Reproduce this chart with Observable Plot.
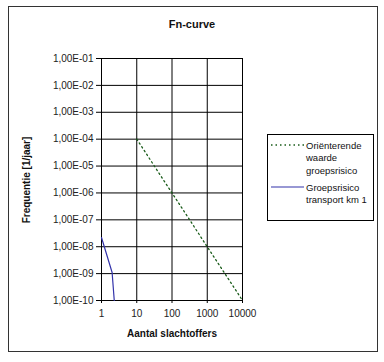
<!DOCTYPE html>
<html><head><meta charset="utf-8">
<script src="https://cdn.jsdelivr.net/npm/d3@7"></script>
<script src="https://cdn.jsdelivr.net/npm/@observablehq/plot@0.6"></script>
<style>body{margin:0;background:#fff;font-family:"Liberation Sans",Arial,sans-serif}</style>
</head><body><div id="chart"></div>
<script>
const title = "Fn-curve";
const xLabel = "Aantal slachtoffers";
const yLabel = "Frequentie [1/jaar]";
const xTicks = [1, 10, 100, 1000, 10000];
const yTicks = [1e-1, 1e-2, 1e-3, 1e-4, 1e-5, 1e-6, 1e-7, 1e-8, 1e-9, 1e-10];
const seriesNames = ["Oriënterende waarde groepsrisico", "Groepsrisico transport km 1"];
const orientN = [10, 10000];
const orientF = [1e-4, 1e-10];
const groepN = [1, 2, 2.3];
const groepF = [2.2e-8, 1.1e-9, 1e-10];

const orient = orientN.map((n, i) => ({n, f: orientF[i]}));
const groep = groepN.map((n, i) => ({n, f: groepF[i]}));
const fmtY = d => "1,00E-" + String(Math.round(-Math.log10(d))).padStart(2, "0");

const W = 384, H = 362;
const chart = Plot.plot({
  width: W, height: H,
  marginLeft: 101, marginRight: 142, marginTop: 58, marginBottom: 62,
  style: {fontFamily: '"Liberation Sans", Arial, sans-serif', fontSize: "10px", color: "#222", background: "#fff"},
  x: {type: "log", domain: [1, 10000], ticks: xTicks, tickFormat: d => String(d), tickSize: 3, tickPadding: 6, label: null},
  y: {type: "log", domain: [1e-10, 1e-1], ticks: yTicks, tickFormat: fmtY, tickSize: 5, tickPadding: 3, label: null},
  marks: [
    Plot.gridX(xTicks, {stroke: "#000", strokeOpacity: 1, strokeWidth: 1}),
    Plot.gridY(yTicks, {stroke: "#000", strokeOpacity: 1, strokeWidth: 1}),
    Plot.axisX({ticks: xTicks, tickFormat: d => String(d), tickSize: 3, tickPadding: 6, label: null, fontSize: 10, stroke: "#000"}),
    Plot.axisY({ticks: yTicks, tickFormat: fmtY, tickSize: 5, tickPadding: 3, label: null, fontSize: 10, stroke: "#000"}),
    Plot.ruleX([1], {stroke: "#000"}),
    Plot.ruleY([1e-10], {stroke: "#000"}),
    Plot.line(orient, {x: "n", y: "f", stroke: "#1a5c1a", strokeWidth: 1.3, strokeDasharray: "1.5,3"}),
    Plot.line(groep, {x: "n", y: "f", stroke: "#3333aa", strokeWidth: 1.2})
  ]
});
document.getElementById("chart").appendChild(chart);

const svg = d3.select(chart);
svg.append("rect").attr("x", 8.5).attr("y", 6.5).attr("width", 369).attr("height", 345)
  .attr("fill", "none").attr("stroke", "#333").attr("stroke-width", 1);
svg.append("text").attr("x", 192).attr("y", 28).attr("text-anchor", "middle")
  .attr("font-size", 11).attr("font-weight", "bold").attr("fill", "#111").text(title);
svg.append("text").attr("x", 172).attr("y", 337).attr("text-anchor", "middle")
  .attr("font-size", 10).attr("font-weight", "bold").attr("fill", "#111").text(xLabel);
svg.append("text").attr("transform", "translate(30,180) rotate(-90)").attr("text-anchor", "middle")
  .attr("font-size", 10).attr("font-weight", "bold").attr("fill", "#111").text(yLabel);

// legend
const lg = svg.append("g");
lg.append("rect").attr("x", 267.5).attr("y", 134.5).attr("width", 106).attr("height", 86)
  .attr("fill", "#fff").attr("stroke", "#000");
lg.append("line").attr("x1", 271).attr("x2", 304).attr("y1", 145).attr("y2", 145)
  .attr("stroke", "#1a5c1a").attr("stroke-width", 1.3).attr("stroke-dasharray", "1.5,3");
lg.append("line").attr("x1", 271).attr("x2", 304).attr("y1", 187).attr("y2", 187)
  .attr("stroke", "#3333aa").attr("stroke-width", 1.2);
const l1 = ["Oriënterende", "waarde", "groepsrisico"];
const l2 = ["Groepsrisico", "transport km 1"];
l1.forEach((t, i) => lg.append("text").attr("x", 306).attr("y", 148.5 + i * 12.5).attr("text-anchor", "start").attr("font-size", 9.5).attr("fill", "#111").text(t));
l2.forEach((t, i) => lg.append("text").attr("x", 306).attr("y", 190.5 + i * 12.5).attr("text-anchor", "start").attr("font-size", 9.5).attr("fill", "#111").text(t));
</script></body></html>
